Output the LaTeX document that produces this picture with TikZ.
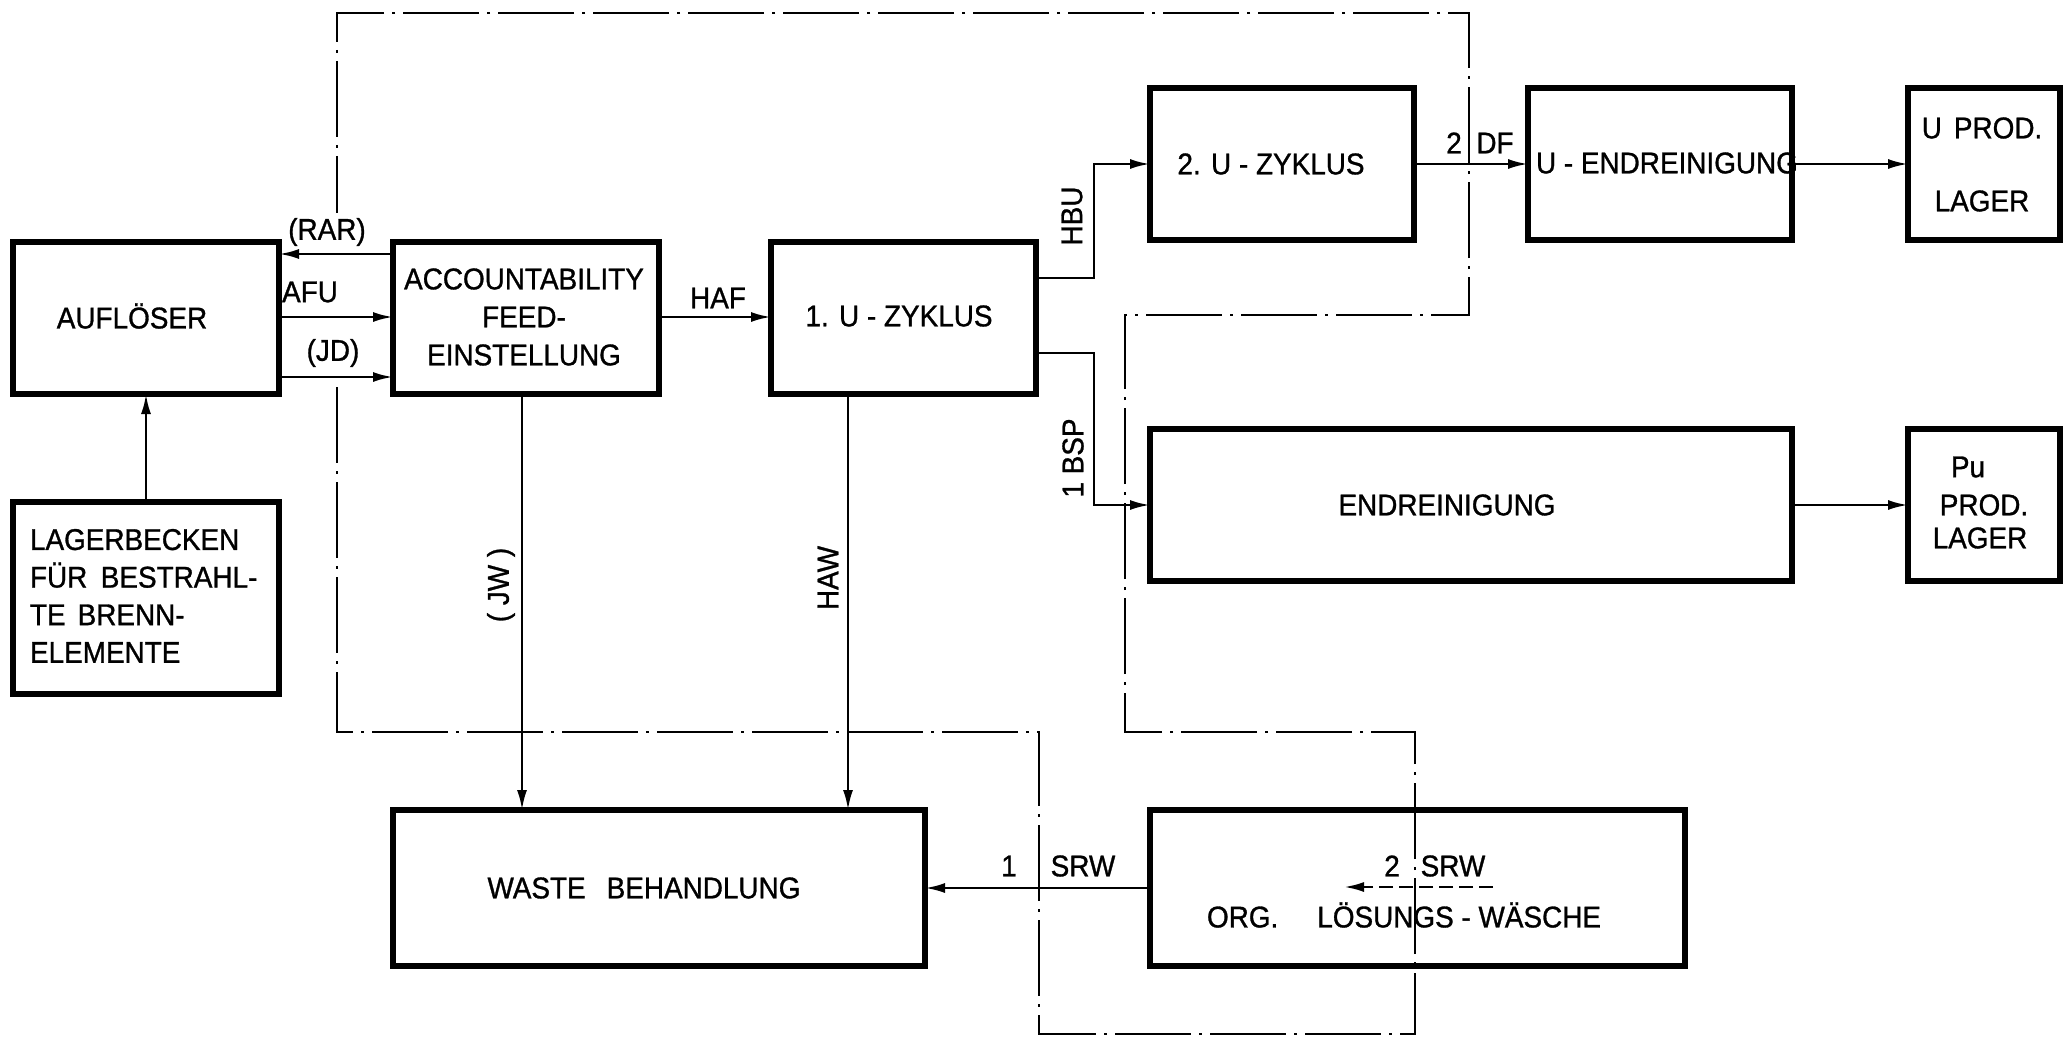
\documentclass[tikz,border=0pt]{standalone}
\usepackage{fontspec}
\setmainfont{Liberation Sans}[FakeStretch=0.93,FakeBold=1]
\usetikzlibrary{arrows.meta}
\begin{document}
\begin{tikzpicture}[x=0.5pt,y=-0.5pt,
  box/.style={draw, line width=2.6pt, rectangle, inner sep=0pt, outer sep=0pt},
  conn/.style={line width=1.3pt, -{Latex[length=10pt,width=5pt]}},
  ddot/.style={line width=1.4pt, line cap=butt, dash pattern=on 38pt off 4pt on 1.5pt off 4pt},
  lbl/.style={font=\fontsize{15}{19}\selectfont, inner sep=0pt, outer sep=0pt},
  ]
\fill[white] (0,0) rectangle (2072,1038);
\useasboundingbox (0,0) rectangle (2072,1038);

% boxes
\node[box,minimum width=133pt,minimum height=76pt] (auf) at (146,318) {};
\node[box,minimum width=133pt,minimum height=76pt] (acc) at (526,318) {};
\node[box,minimum width=132.5pt,minimum height=76pt] (u1) at (903.5,318) {};
\node[box,minimum width=132pt,minimum height=76pt] (u2) at (1282,164) {};
\node[box,minimum width=132pt,minimum height=76pt] (uend) at (1660,164) {};
\node[box,minimum width=76pt,minimum height=76pt] (uprod) at (1984,164) {};
\node[box,minimum width=321pt,minimum height=76pt] (endr) at (1471,505) {};
\node[box,minimum width=76pt,minimum height=76pt] (puprod) at (1984,505) {};
\node[box,minimum width=133pt,minimum height=96pt] (lag) at (146,598) {};
\node[box,minimum width=266pt,minimum height=78pt] (waste) at (659,888) {};
\node[box,minimum width=267.5pt,minimum height=78pt] (org) at (1417.5,888) {};

% box texts
\node[lbl] (t-auf) at (132,316) {AUFLÖSER};
\node[lbl,align=center] (t-acc) at (524,317) {ACCOUNTABILITY\\FEED-\\EINSTELLUNG};
\node[lbl] (t-u1) at (899,316) {1. U - ZYKLUS};
\node[lbl] (t-u2) at (1271,164) {2. U - ZYKLUS};
\node[lbl,anchor=west] (t-uend) at (1536,163) {U - ENDREINIGUNG};
\node[lbl] (t-uprod1) at (1982,128) {U\hspace{0.4em}PROD.};
\node[lbl] (t-uprod2) at (1982,201) {LAGER};
\node[lbl] (t-endr) at (1447,505) {ENDREINIGUNG};
\node[lbl] (t-pu1) at (1968,467) {Pu};
\node[lbl] (t-pu2) at (1984,505) {PROD.};
\node[lbl] (t-pu3) at (1980,538) {LAGER};
\node[lbl,align=left,anchor=north west,font=\fontsize{15}{18.8}\selectfont] (t-lag) at (30,529) {LAGERBECKEN\\FÜR\hspace{0.45em}BESTRAHL-\\TE\hspace{0.4em}BRENN-\\ELEMENTE};
\node[lbl] (t-waste) at (644,888) {WASTE\hspace{0.7em}BEHANDLUNG};
\node[lbl] (t-org) at (1404,915) {ORG.\hspace{1.3em}LÖSUNGS - WÄSCHE};

% coordinates for connectors
\coordinate (yRAR) at (0,254);
\coordinate (yAFU) at (0,317);
\coordinate (yJD) at (0,377);
\coordinate (xJW) at (522,0);
\coordinate (xHAW) at (848,0);
\coordinate (hbuA) at (1094,278);
\coordinate (bspA) at (1094,353);
\coordinate (srwA) at (1493,887);
\coordinate (srwB) at (1344,887);

% dash-dot boundary
\draw[ddot] (337,387) -- (337,732) -- (1039,732) -- (1039,1034) -- (1415,1034)
  -- (1415,732) -- (1125,732) -- (1125,315) -- (1469,315) -- (1469,13)
  -- (337,13) -- (337,213);

% connectors
\draw[conn] (acc.west |- yRAR) -- (auf.east |- yRAR);
\draw[conn] (auf.east |- yAFU) -- (acc.west |- yAFU);
\draw[conn] (auf.east |- yJD) -- (acc.west |- yJD);
\draw[conn] (acc.east |- yAFU) -- (u1.west |- yAFU);
\draw[conn] (u1.east |- hbuA) -- (hbuA) |- (u2.west);
\draw[conn] (u2.east) -- (uend.west);
\draw[conn] (uend.east) -- (uprod.west);
\draw[conn] (u1.east |- bspA) -- (bspA) |- (endr.west);
\draw[conn] (endr.east) -- (puprod.west);
\draw[conn] (lag.north) -- (auf.south);
\draw[conn] (acc.south -| xJW) -- (waste.north -| xJW);
\draw[conn] (u1.south -| xHAW) -- (waste.north -| xHAW);
\draw[conn] (org.west) -- (waste.east);
\draw[conn, dash pattern=on 7pt off 3pt] (srwA) -- (srwB);

% connector labels
\node[lbl] (l-rar) at (327,232) {(RAR)};
\node[lbl] (l-afu) at (310,292) {AFU};
\node[lbl] (l-jd) at (333,353) {(JD)};
\node[lbl] (l-haf) at (718,298) {HAF};
\node[lbl,rotate=90] (l-hbu) at (1072,216) {HBU};
\node[lbl,rotate=90] (l-bsp) at (1073,458) {1 BSP};
\node[lbl,rotate=90] (l-jw) at (501,585) {( JW )};
\node[lbl,rotate=90] (l-haw) at (828,578) {HAW};
\node[lbl] (l-df2) at (1454,143) {2};
\node[lbl] (l-df) at (1495,143) {DF};
\node[lbl] (l-srw1n) at (1009,866) {1};
\node[lbl] (l-srw1) at (1083,866) {SRW};
\node[lbl] (l-srw2n) at (1392,866) {2};
\node[lbl] (l-srw2) at (1453,866) {SRW};
\end{tikzpicture}
\end{document}
